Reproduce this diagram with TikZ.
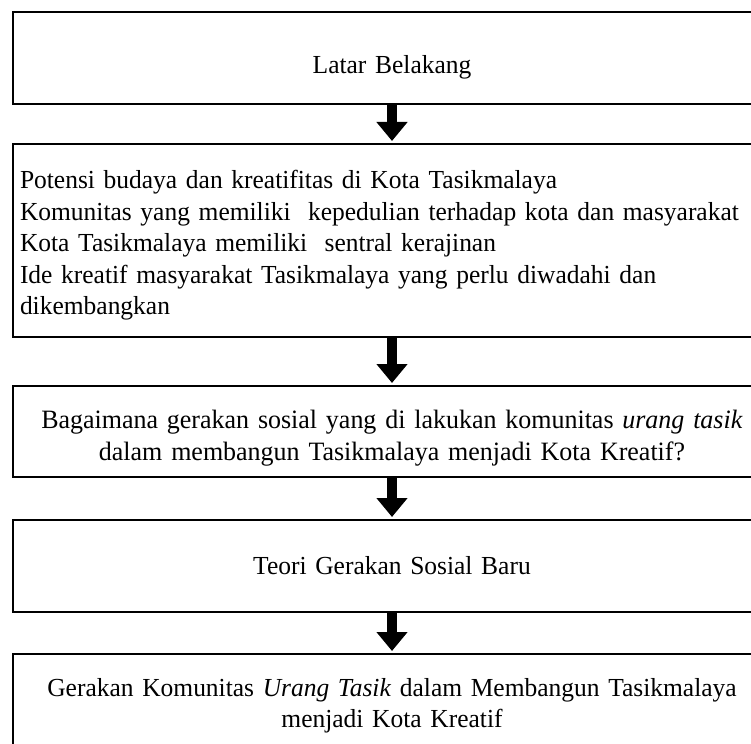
\documentclass[tikz,border=0pt]{standalone}
\usepackage{fontspec}
\setmainfont[FakeStretch=0.98]{Liberation Serif}
\usetikzlibrary{positioning, arrows.meta}

\tikzset{
    kotak/.style={draw, line width=2.7pt, minimum width=758pt, text width=744pt,
        inner xsep=7pt, inner ysep=0pt, outer sep=0pt,
        font={\fontsize{26}{31.5}\selectfont}},
    turun/.style={text height=#1},
    panah/.style={line width=10pt, -{Triangle[width=30pt, length=19pt]}, shorten >=3pt}
}

\begin{document}
\begin{tikzpicture}[x=1pt, y=1pt]
        % ukuran gambar
        \useasboundingbox (0, 0) rectangle (751, -743);
        \clip (0, 0) rectangle (751, -743);

        % kotak-kotak alur
        \node[kotak, align=center, minimum height=92pt, turun=37pt] (latar) at (392, -58) {Latar Belakang};
        \node[kotak, align=left, minimum height=193pt, turun=28pt, below=40pt of latar] (potensi) {
            Potensi budaya dan kreatifitas di Kota Tasikmalaya\\
            Komunitas yang memiliki\ \ kepedulian terhadap kota dan masyarakat\\
            Kota Tasikmalaya memiliki\ \ sentral kerajinan\\
            Ide kreatif masyarakat Tasikmalaya yang perlu diwadahi dan\\
            dikembangkan};
        \node[kotak, align=center, minimum height=91pt, turun=32pt, below=49pt of potensi,
            font={\fontsize{26.5}{31.5}\selectfont}] (rumusan) {
            Bagaimana gerakan sosial yang di lakukan komunitas \textit{urang tasik}\\
            dalam membangun Tasikmalaya menjadi Kota Kreatif?};
        \node[kotak, align=center, minimum height=92pt, below=43pt of rumusan] (teori) {Teori Gerakan Sosial Baru};
        \node[kotak, align=center, minimum height=100pt, turun=22pt, below=42pt of teori] (hasil) {
            Gerakan Komunitas \textit{Urang Tasik} dalam Membangun Tasikmalaya\\
            menjadi Kota Kreatif};

        % panah antar kotak
        \draw[panah] (latar) -- (potensi);
        \draw[panah] (potensi) -- (rumusan);
        \draw[panah] (rumusan) -- (teori);
        \draw[panah] (teori) -- (hasil);
    \end{tikzpicture}
\end{document}
